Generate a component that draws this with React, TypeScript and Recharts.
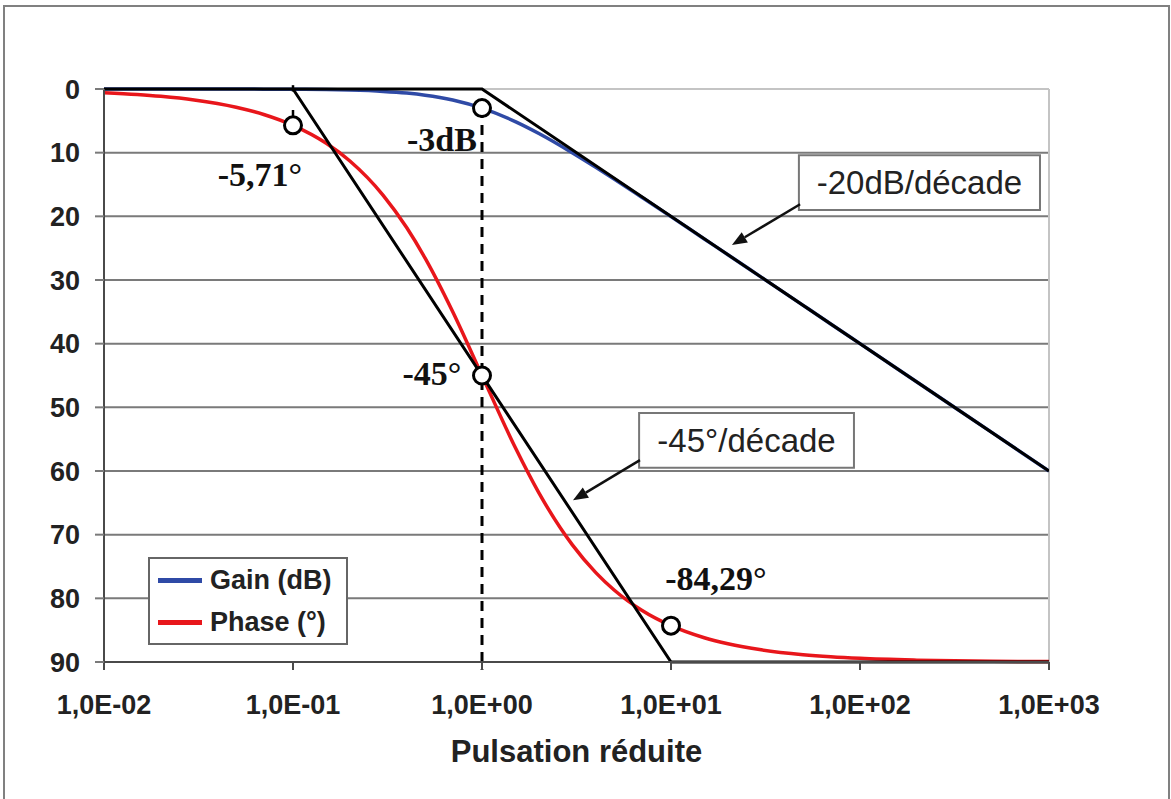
import React from "react";
import {
  ComposedChart,
  Line,
  XAxis,
  YAxis,
  CartesianGrid,
  ReferenceLine,
  ReferenceDot,
  ReferenceArea,
  Legend,
} from "recharts";

// pulsation réduite (échelle log)
const pulsations = [
  0.01, 0.015, 0.02, 0.03, 0.05, 0.07, 0.1, 0.15, 0.2, 0.3, 0.4, 0.5, 0.7, 1, 1.5, 2, 3, 4, 5, 7, 10,
  15, 20, 30, 50, 70, 100, 200, 500, 1000,
];
// atténuation en dB (axe inversé)
const gain = [
  0.0004, 0.001, 0.0017, 0.0039, 0.011, 0.021, 0.043, 0.097, 0.17, 0.374, 0.645, 0.969, 1.73, 3.01,
  5.12, 6.99, 10.0, 12.3, 14.15, 17.0, 20.04, 23.55, 26.03, 29.55, 33.98, 36.9, 40.0, 46.02, 53.98,
  60.0,
];
// déphasage en degrés (valeur absolue)
const phase = [
  0.57, 0.86, 1.15, 1.72, 2.86, 4.0, 5.71, 8.53, 11.31, 16.7, 21.8, 26.57, 34.99, 45, 56.31, 63.43,
  71.57, 75.96, 78.69, 81.87, 84.29, 86.19, 87.14, 88.09, 88.85, 89.18, 89.43, 89.71, 89.89, 89.94,
];

// asymptotes
const asymGainW = [0.01, 1, 1000];
const asymGainV = [0, 0, 60];
const asymPhaseW = [0.1, 10, 1000];
const asymPhaseV = [0, 90, 90];

const xTicks = [0.01, 0.1, 1, 10, 100, 1000];
const yTicks = [0, 10, 20, 30, 40, 50, 60, 70, 80, 90];

const gainData = pulsations.map((w, i) => ({ w, v: gain[i] }));
const phaseData = pulsations.map((w, i) => ({ w, v: phase[i] }));
const asymGain = asymGainW.map((w, i) => ({ w, v: asymGainV[i] }));
const asymPhase = asymPhaseW.map((w, i) => ({ w, v: asymPhaseV[i] }));

const SANS = "'Liberation Sans', Arial, sans-serif";
const SERIF = "'Liberation Serif', 'Times New Roman', serif";

const fmtPuissance = (v: number) => {
  const e = Math.round(Math.log10(v));
  return `1,0E${e < 0 ? "-" : "+"}${String(Math.abs(e)).padStart(2, "0")}`;
};

const Cercle = (props: any) => (
  <circle cx={props.cx} cy={props.cy} r={8.5} fill="#fff" stroke="#000" strokeWidth={3} />
);

const texteSerif = (txt: string) => (props: any) => (
  <text
    x={props.cx}
    y={props.cy + 11}
    textAnchor="middle"
    fontFamily={SERIF}
    fontWeight="bold"
    fontSize={34}
    fill="#111"
  >
    {txt}
  </text>
);

const Fleche = (props: any) => {
  const { x1, y1, x2, y2 } = props;
  const a = Math.atan2(y2 - y1, x2 - x1);
  const L = 15;
  const W = 6;
  const bx = x2 - L * Math.cos(a);
  const by = y2 - L * Math.sin(a);
  const pts = [
    `${x2},${y2}`,
    `${bx - W * Math.sin(a)},${by + W * Math.cos(a)}`,
    `${bx + W * Math.sin(a)},${by - W * Math.cos(a)}`,
  ].join(" ");
  return (
    <g>
      <line x1={x1} y1={y1} x2={bx} y2={by} stroke="#111" strokeWidth={2.5} />
      <polygon points={pts} fill="#111" />
    </g>
  );
};

const Legende = () => (
  <div
    style={{
      width: 196,
      height: 84,
      border: "2px solid #666",
      background: "#fff",
      fontFamily: SANS,
      fontWeight: "bold",
      fontSize: 27,
      color: "#222",
      boxSizing: "content-box",
    }}
  >
    {[
      { nom: "Gain (dB)", c: "#2f4aa6" },
      { nom: "Phase (°)", c: "#e8161b" },
    ].map((it, i) => (
      <div key={i} style={{ display: "flex", alignItems: "center", height: 42, paddingLeft: 8 }}>
        <span style={{ width: 44, height: 5, background: it.c, marginRight: 8 }} />
        <span>{it.nom}</span>
      </div>
    ))}
  </div>
);

export default function App() {
  return (
    <div style={{ position: "absolute", left: 0, top: 0, width: 1171, height: 799, background: "#fff", overflow: "hidden" }}>
      <div
        style={{
          position: "absolute",
          left: 3,
          top: 5,
          width: 1163,
          height: 810,
          border: "2px solid #808080",
        }}
      />
      <div style={{ position: "absolute", left: 0, top: 0 }}>
        <ComposedChart width={1171} height={799} margin={{ top: 89, right: 122, left: 44, bottom: 37 }}>
          <CartesianGrid horizontal vertical={false} horizontalValues={[10, 20, 30, 40, 50, 60, 70, 80]} stroke="#7a7a7a" strokeWidth={2} />
          <XAxis
            dataKey="w"
            type="number"
            scale="log"
            domain={[0.01, 1000]}
            ticks={xTicks}
            interval={0}
            allowDataOverflow
            tickFormatter={fmtPuissance}
            height={100}
            tickSize={8}
            tickMargin={25}
            axisLine={{ stroke: "#4a4a4a", strokeWidth: 2 }}
            tickLine={{ stroke: "#4a4a4a", strokeWidth: 2 }}
            tick={{ fontSize: 27, fontWeight: "bold", fill: "#222", fontFamily: SANS }}
            label={{
              value: "Pulsation réduite",
              position: "insideBottom",
              offset: 0,
              fontSize: 31,
              fontWeight: "bold",
              fill: "#222",
              fontFamily: SANS,
            }}
          />
          <YAxis
            type="number"
            domain={[0, 90]}
            reversed
            ticks={yTicks}
            interval={0}
            width={60}
            tickSize={9}
            tickMargin={15}
            axisLine={{ stroke: "#4a4a4a", strokeWidth: 2 }}
            tickLine={{ stroke: "#7a7a7a", strokeWidth: 2 }}
            tick={{ fontSize: 27, fontWeight: "bold", fill: "#222", fontFamily: SANS }}
          />
          <ReferenceLine y={0} stroke="#c4c4c4" strokeWidth={2} />
          <ReferenceLine x={1000} stroke="#c4c4c4" strokeWidth={2} />

          <Line data={gainData} dataKey="v" name="Gain (dB)" type="monotone" stroke="#2f4aa6" strokeWidth={3.5} dot={false} isAnimationActive={false} />
          <Line data={phaseData} dataKey="v" name="Phase (°)" type="monotone" stroke="#e8161b" strokeWidth={3.5} dot={false} isAnimationActive={false} />
          <Line data={asymGain} dataKey="v" legendType="none" type="linear" stroke="#000" strokeWidth={3} dot={false} isAnimationActive={false} />
          <Line data={asymPhase} dataKey="v" legendType="none" type="linear" stroke="#000" strokeWidth={3} dot={false} isAnimationActive={false} />

          {/* pulsation de coupure */}
          <ReferenceLine segment={[{ x: 1, y: 3 }, { x: 1, y: 91.2 }]} stroke="#000" strokeWidth={3} strokeDasharray="10 7" ifOverflow="visible" />
          <ReferenceLine segment={[{ x: 0.1, y: -0.6 }, { x: 0.1, y: 0.4 }]} stroke="#000" strokeWidth={2.5} ifOverflow="visible" />
          <ReferenceLine segment={[{ x: 0.1, y: 3.3 }, { x: 0.1, y: 5 }]} stroke="#000" strokeWidth={2.5} ifOverflow="visible" />

          {/* pentes */}
          <ReferenceArea x1={47.5} x2={896} y1={10.4} y2={19} fill="#fff" fillOpacity={1} stroke="#777" strokeWidth={2}
            label={{ value: "-20dB/décade", position: "center", fontSize: 33, fill: "#222", fontFamily: SANS }} />
          <ReferenceLine segment={[{ x: 48.2, y: 18.1 }, { x: 21, y: 24.5 }]} shape={Fleche} ifOverflow="visible" />
          <ReferenceArea x1={6.78} x2={92.9} y1={50.9} y2={59.5} fill="#fff" fillOpacity={1} stroke="#777" strokeWidth={2}
            label={{ value: "-45°/décade", position: "center", fontSize: 33, fill: "#222", fontFamily: SANS }} />
          <ReferenceLine segment={[{ x: 6.85, y: 58.3 }, { x: 3.03, y: 64.6 }]} shape={Fleche} ifOverflow="visible" />

          {/* points remarquables */}
          <ReferenceDot x={0.1} y={5.71} shape={Cercle} />
          <ReferenceDot x={1} y={3} shape={Cercle} />
          <ReferenceDot x={1} y={45} shape={Cercle} />
          <ReferenceDot x={10} y={84.29} shape={Cercle} />
          <ReferenceDot x={0.0668} y={13.5} shape={texteSerif("-5,71°")} />
          <ReferenceDot x={0.614} y={8.0} shape={texteSerif("-3dB")} />
          <ReferenceDot x={0.543} y={44.8} shape={texteSerif("-45°")} />
          <ReferenceDot x={17.3} y={77.0} shape={texteSerif("-84,29°")} />

          <Legend
            layout="horizontal"
            verticalAlign="middle"
            align="center"
            content={<Legende />}
            wrapperStyle={{ left: 148, top: 557, width: 200 }}
          />
        </ComposedChart>
      </div>
    </div>
  );
}
